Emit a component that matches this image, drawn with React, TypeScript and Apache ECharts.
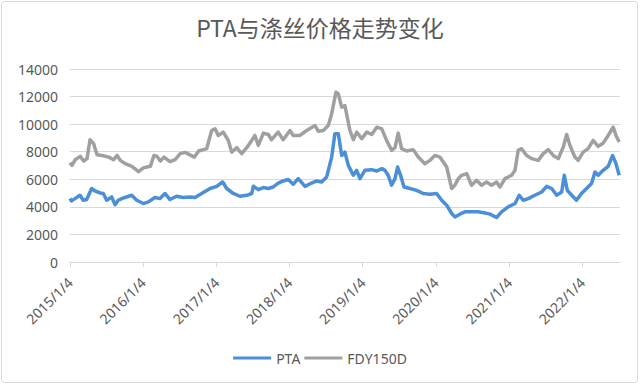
import React, { useEffect, useRef } from "react";
import * as echarts from "echarts";

const xTickLabels = ["2015/1/4", "2016/1/4", "2017/1/4", "2018/1/4", "2019/1/4", "2020/1/4", "2021/1/4", "2022/1/4"];
const yTicks = [0, 2000, 4000, 6000, 8000, 10000, 12000, 14000];
const axisStart = "2015-01-04";
const axisEnd = "2022-07-11";

const ptaDates = [
  "2015-01-04", "2015-01-12", "2015-01-29", "2015-02-23", "2015-03-11", "2015-03-28", "2015-04-22", "2015-05-09",
  "2015-06-03", "2015-06-19", "2015-07-06", "2015-07-31", "2015-08-17", "2015-09-02", "2015-10-05", "2015-11-08",
  "2015-12-03", "2016-01-05", "2016-01-30", "2016-03-03", "2016-03-28", "2016-04-22", "2016-05-17", "2016-06-19",
  "2016-07-22", "2016-08-25", "2016-09-19", "2016-10-22", "2016-12-03", "2017-01-05", "2017-02-04", "2017-02-24",
  "2017-03-29", "2017-05-01", "2017-06-04", "2017-06-29", "2017-07-07", "2017-08-01", "2017-08-26", "2017-09-20",
  "2017-10-14", "2017-11-08", "2017-12-03", "2017-12-28", "2018-01-22", "2018-02-16", "2018-03-22", "2018-04-24",
  "2018-05-19", "2018-06-13", "2018-07-08", "2018-08-02", "2018-08-18", "2018-09-04", "2018-09-21", "2018-10-07",
  "2018-10-24", "2018-11-18", "2018-12-05", "2018-12-21", "2019-01-15", "2019-02-17", "2019-03-15", "2019-04-09",
  "2019-04-25", "2019-05-11", "2019-05-28", "2019-06-14", "2019-06-27", "2019-07-12", "2019-07-29", "2019-08-28",
  "2019-09-30", "2019-11-02", "2019-12-05", "2020-01-08", "2020-02-02", "2020-02-27", "2020-03-23", "2020-04-08",
  "2020-05-03", "2020-05-28", "2020-06-30", "2020-08-02", "2020-09-05", "2020-09-30", "2020-11-02", "2020-11-27",
  "2020-12-30", "2021-02-02", "2021-02-23", "2021-03-15", "2021-04-09", "2021-05-12", "2021-06-15", "2021-07-10",
  "2021-08-04", "2021-08-29", "2021-09-23", "2021-10-06", "2021-10-21", "2021-11-12", "2021-12-06", "2021-12-31",
  "2022-01-25", "2022-02-19", "2022-03-08", "2022-03-24", "2022-04-18", "2022-05-13", "2022-06-04", "2022-06-21",
  "2022-07-07"
];
const ptaValues = [
  4600, 4430, 4600, 4840, 4480, 4530, 5330, 5150,
  5010, 4970, 4480, 4720, 4150, 4480, 4680, 4840,
  4480, 4240, 4360, 4680, 4600, 4970, 4530, 4770,
  4680, 4720, 4680, 4970, 5330, 5490, 5800, 5330,
  4970, 4770, 4840, 4970, 5490, 5250, 5400, 5330,
  5440, 5730, 5880, 5980, 5640, 6050, 5490, 5730,
  5880, 5800, 6170, 7610, 9300, 9300, 7730, 7970,
  7010, 6290, 6650, 6050, 6650, 6700, 6600, 6770,
  6650, 6290, 5570, 6050, 6890, 6290, 5440, 5330,
  5200, 4970, 4920, 4970, 4480, 4120, 3520, 3270,
  3470, 3640, 3640, 3640, 3560, 3470, 3230, 3640,
  4000, 4240, 4840, 4480, 4600, 4840, 5080, 5490,
  5330, 4840, 5080, 6290, 5200, 4840, 4480, 4970,
  5330, 5690, 6530, 6290, 6650, 6940, 7730, 7130,
  6290
];

const fdyDates = [
  "2015-01-04", "2015-01-14", "2015-01-30", "2015-02-24", "2015-03-13", "2015-03-30", "2015-04-14", "2015-05-02",
  "2015-05-19", "2015-06-13", "2015-07-16", "2015-08-10", "2015-08-27", "2015-09-12", "2015-10-07", "2015-11-09",
  "2015-12-12", "2016-01-07", "2016-02-09", "2016-02-27", "2016-03-13", "2016-03-30", "2016-04-17", "2016-05-17",
  "2016-06-12", "2016-07-07", "2016-08-01", "2016-08-20", "2016-09-16", "2016-10-07", "2016-11-16", "2016-12-11",
  "2016-12-28", "2017-01-13", "2017-02-07", "2017-03-04", "2017-03-21", "2017-04-15", "2017-05-10", "2017-06-04",
  "2017-06-29", "2017-07-15", "2017-08-01", "2017-08-26", "2017-09-20", "2017-10-06", "2017-11-08", "2017-12-03",
  "2018-01-06", "2018-01-22", "2018-02-25", "2018-03-30", "2018-05-11", "2018-05-27", "2018-06-21", "2018-07-16",
  "2018-08-02", "2018-08-23", "2018-09-04", "2018-09-21", "2018-10-07", "2018-11-01", "2018-11-18", "2018-12-05",
  "2018-12-30", "2019-01-24", "2019-02-18", "2019-03-15", "2019-04-09", "2019-05-03", "2019-05-28", "2019-06-14",
  "2019-06-30", "2019-07-17", "2019-08-11", "2019-09-13", "2019-10-08", "2019-11-10", "2019-12-05", "2019-12-30",
  "2020-01-24", "2020-02-27", "2020-03-23", "2020-04-08", "2020-04-25", "2020-05-12", "2020-06-06", "2020-06-30",
  "2020-07-25", "2020-08-19", "2020-09-13", "2020-10-08", "2020-11-02", "2020-11-19", "2020-12-14", "2021-01-16",
  "2021-02-02", "2021-02-18", "2021-03-07", "2021-04-01", "2021-04-26", "2021-05-29", "2021-06-23", "2021-07-18",
  "2021-08-12", "2021-09-06", "2021-10-01", "2021-10-18", "2021-11-03", "2021-11-28", "2021-12-14", "2022-01-08",
  "2022-02-02", "2022-02-27", "2022-03-24", "2022-04-18", "2022-05-13", "2022-06-07", "2022-06-21", "2022-07-07"
];
const fdyValues = [
  7200, 7010, 7420, 7660, 7320, 7500, 8870, 8580,
  7780, 7730, 7610, 7420, 7730, 7370, 7130, 6940,
  6550, 6840, 6940, 7730, 7660, 7320, 7610, 7280,
  7420, 7860, 7950, 7810, 7610, 8050, 8220, 9540,
  9660, 9180, 9420, 8820, 7970, 8290, 7860, 8290,
  8820, 9180, 8460, 9350, 9250, 8870, 9420, 8870,
  9540, 9180, 9180, 9540, 9900, 9490, 9540, 9900,
  10750, 12310, 12200, 11230, 11350, 9540, 8870, 9420,
  8940, 9420, 9250, 9780, 9660, 8820, 8100, 8290,
  9350, 8220, 8050, 8150, 7610, 7130, 7370, 7730,
  7610, 6890, 5330, 5570, 6050, 6290, 6410, 5570,
  5930, 5570, 5800, 5570, 5800, 5440, 6050, 6290,
  6650, 8100, 8220, 7730, 7500, 7370, 7860, 8150,
  7730, 7500, 8340, 9250, 8460, 7610, 7370, 7970,
  8220, 8820, 8390, 8620, 9180, 9780, 9180, 8700
];

const toDays = (s: string) => {
  const p = s.split(/[-/]/).map(Number);
  return (Date.UTC(p[0], p[1] - 1, p[2]) - Date.UTC(2015, 0, 4)) / 86400000;
};

const tickDays = xTickLabels.map((l) => toDays(l));

export default function App() {
  const ref = useRef<HTMLDivElement>(null);
  useEffect(() => {
    if (!ref.current) return;
    const chart = echarts.init(ref.current, null, { renderer: "svg" });
    const font = "'Noto Sans', 'Noto Sans CJK SC', sans-serif";
    chart.setOption({
      animation: false,
      backgroundColor: "#ffffff",
      textStyle: { fontFamily: font },
      title: {
        text: "PTA与涤丝价格走势变化",
        left: "center",
        top: 10,
        textStyle: { fontFamily: "'Noto Sans CJK SC', sans-serif", fontSize: 23, fontWeight: "normal", color: "#595959" },
      },
      legend: {
        bottom: 15,
        left: "center",
        icon: "rect",
        itemWidth: 38,
        itemHeight: 3,
        itemGap: 4,
        textStyle: { fontSize: 14, color: "#595959", fontFamily: font },
        data: ["PTA", "FDY150D"],
      },
      grid: { left: 70, right: 20, top: 69, bottom: 123 },
      xAxis: {
        type: "value",
        min: toDays(axisStart),
        max: toDays(axisEnd),
        splitLine: { show: false },
        axisLine: { show: true, lineStyle: { color: "#d9d9d9", width: 1 } },
        axisTick: { show: true, customValues: tickDays, length: 5, lineStyle: { color: "#d9d9d9" } },
        axisLabel: {
          customValues: tickDays,
          rotate: 45,
          margin: 18,
          fontSize: 14,
          color: "#595959",
          fontFamily: font,
          formatter: (v: number) => {
            const i = tickDays.findIndex((t) => Math.abs(t - v) < 1);
            return i >= 0 ? xTickLabels[i] : "";
          },
        },
      },
      yAxis: {
        type: "value",
        min: yTicks[0],
        max: yTicks[yTicks.length - 1],
        interval: 2000,
        axisLine: { show: false },
        axisTick: { show: false },
        splitLine: { lineStyle: { color: "#d9d9d9", width: 1 } },
        axisLabel: { fontSize: 14, color: "#595959", margin: 12, fontFamily: font, formatter: (v: number) => String(v) },
      },
      series: [
        {
          name: "PTA",
          type: "line",
          data: ptaDates.map((d, i) => [toDays(d), ptaValues[i]]),
          showSymbol: false,
          color: "#4a8fd8",
          lineStyle: { width: 3.5, color: "#4a8fd8", join: "round" },
          z: 3,
        },
        {
          name: "FDY150D",
          type: "line",
          data: fdyDates.map((d, i) => [toDays(d), fdyValues[i]]),
          showSymbol: false,
          color: "#a0a0a0",
          lineStyle: { width: 3.5, color: "#a0a0a0", join: "round" },
          z: 2,
        },
      ],
      graphic: [
        {
          type: "rect",
          shape: { x: 1.5, y: 1.5, width: 636, height: 381, r: 3 },
          style: { fill: "none", stroke: "#d9d9d9", lineWidth: 1 },
          silent: true,
        },
      ],
    });
    return () => chart.dispose();
  }, []);
  return <div ref={ref} style={{ position: "fixed", left: 0, top: 0, width: 640, height: 385 }} />;
}
